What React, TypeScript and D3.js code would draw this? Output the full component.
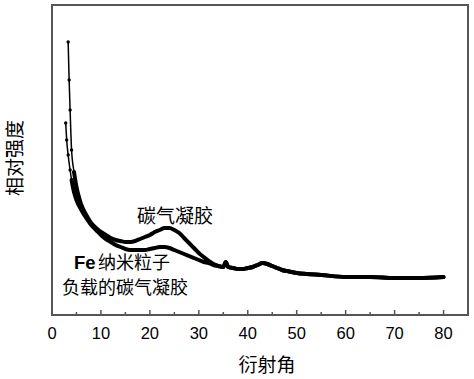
import React from "react";
import * as d3 from "d3";

// 2θ values and intensities (a.u.) for carbon aerogel
const aerogelAngle = [3.3, 3.5, 3.7, 4.0, 4.5, 5.0, 5.5, 6.0, 7.0, 8.0, 9.0, 10, 11, 12, 13, 14, 15, 16, 17, 18, 19, 20, 21, 22, 23, 24, 25, 26, 27, 28, 29, 30, 31, 32, 33, 34, 35, 35.5, 36, 37, 38, 39, 40, 41, 42, 43, 44, 45, 46, 47, 48, 50, 52, 55, 60, 65, 70, 75, 80];
const aerogelIntensity = [273, 235, 205, 165, 143, 128, 118, 110, 100, 92, 87, 83, 80, 77, 75, 74, 73, 73, 74, 76, 78, 80, 83, 85, 87, 87, 85, 82, 77, 72, 67, 62, 58, 54, 51, 49, 48, 53, 48, 47, 46, 46, 47, 48, 50, 52, 51, 49, 47, 45, 44, 42, 41, 40, 38, 38, 37, 37, 38];

// Fe nanoparticle loaded carbon aerogel
const feAngle = [2.8, 3.0, 3.3, 3.7, 4.0, 4.5, 5.0, 6.0, 7.0, 8.0, 9.0, 10, 11, 12, 13, 14, 15, 16, 17, 18, 19, 20, 21, 22, 23, 24, 25, 26, 27, 28, 29, 30, 31, 32, 33, 34, 35, 35.5, 36, 37, 38, 39, 40, 41, 42, 43, 44, 45, 46, 47, 48, 50, 52, 55, 60, 65, 70, 75, 80];
const feIntensity = [192, 175, 160, 145, 135, 123, 115, 105, 97, 90, 85, 80, 76, 73, 70, 68, 66, 65, 65, 65, 65, 66, 67, 68, 68, 67, 65, 63, 61, 59, 57, 55, 53, 52, 50, 49, 48, 53, 48, 47, 46, 46, 47, 48, 50, 52, 51, 49, 47, 45, 44, 42, 41, 40, 38, 38, 37, 37, 38];

const xTicks = [0, 10, 20, 30, 40, 50, 60, 70, 80];
const xMinorTicks = [5, 15, 25, 35, 45, 55, 65, 75, 85];

const cjk = '"Noto Sans CJK SC", sans-serif';
const latin = '"Liberation Sans", Arial, sans-serif';

export default function App() {
  const W = 474, H = 379;
  const left = 52, right = 468, top = 5, bottom = 315;
  const x = d3.scaleLinear().domain([0, 85]).range([left, right]);
  const y = d3.scaleLinear().domain([0, 310]).range([bottom, top]);

  const line = d3
    .line<[number, number]>()
    .x((d) => x(d[0]))
    .y((d) => y(d[1]))
    .curve(d3.curveMonotoneX);

  const aerogel: [number, number][] = aerogelAngle.map((a, i) => [a, aerogelIntensity[i]]);
  const fe: [number, number][] = feAngle.map((a, i) => [a, feIntensity[i]]);

  return (
    <svg width={W} height={H} style={{ position: "absolute", left: 0, top: 0, background: "#fff" }}>
      <rect x={0} y={0} width={W} height={H} fill="#fff" />
      {/* thin dotted start of both curves */}
      <path d={line(aerogel.slice(0, 6)) || ""} fill="none" stroke="#000" strokeWidth={1.5} />
      <path d={line(fe.slice(0, 6)) || ""} fill="none" stroke="#000" strokeWidth={1.5} />
      {aerogel.slice(0, 8).map((d, i) => (
        <circle key={"a" + i} cx={x(d[0])} cy={y(d[1])} r={1.7} fill="#000" />
      ))}
      {fe.slice(0, 8).map((d, i) => (
        <circle key={"f" + i} cx={x(d[0])} cy={y(d[1])} r={1.7} fill="#000" />
      ))}
      {/* thick body */}
      <path d={line(fe.slice(4)) || ""} fill="none" stroke="#000" strokeWidth={4} strokeLinejoin="round" strokeLinecap="round" />
      <path d={line(aerogel.slice(4)) || ""} fill="none" stroke="#000" strokeWidth={4} strokeLinejoin="round" strokeLinecap="round" />

      {/* frame */}
      <rect x={left} y={top} width={right - left} height={bottom - top} fill="none" stroke="#555" strokeWidth={2} />
      {/* ticks (inward) */}
      {xTicks.map((t) => (
        <line key={"t" + t} x1={x(t)} x2={x(t)} y1={bottom} y2={bottom - 5} stroke="#555" strokeWidth={1.5} />
      ))}
      {xMinorTicks.map((t) => (
        <line key={"m" + t} x1={x(t)} x2={x(t)} y1={bottom} y2={bottom - 3} stroke="#555" strokeWidth={1.5} />
      ))}
      {xTicks.map((t) => (
        <text key={"l" + t} x={x(t)} y={339} textAnchor="middle" fontFamily={latin} fontSize={16.5} fill="#000">
          {t}
        </text>
      ))}

      {/* axis titles */}
      <text x={267} y={372} textAnchor="middle" fontFamily={cjk} fontSize={19} fill="#000">
        衍射角
      </text>
      <text
        transform={`translate(22,158) rotate(-90)`}
        textAnchor="middle"
        fontFamily={cjk}
        fontSize={19}
        fill="#000"
      >
        相对强度
      </text>

      {/* annotations */}
      <text x={175} y={223} textAnchor="middle" fontFamily={cjk} fontSize={19} fill="#000">
        碳气凝胶
      </text>
      <text x={74} y={269} fontFamily={latin} fontWeight="bold" fontSize={18.5} fill="#000">
        Fe
      </text>
      <text x={98} y={269} fontFamily={cjk} fontSize={18} fill="#000">
        纳米粒子
      </text>
      <text x={125} y={294} textAnchor="middle" fontFamily={cjk} fontSize={18} fill="#000">
        负载的碳气凝胶
      </text>
    </svg>
  );
}
